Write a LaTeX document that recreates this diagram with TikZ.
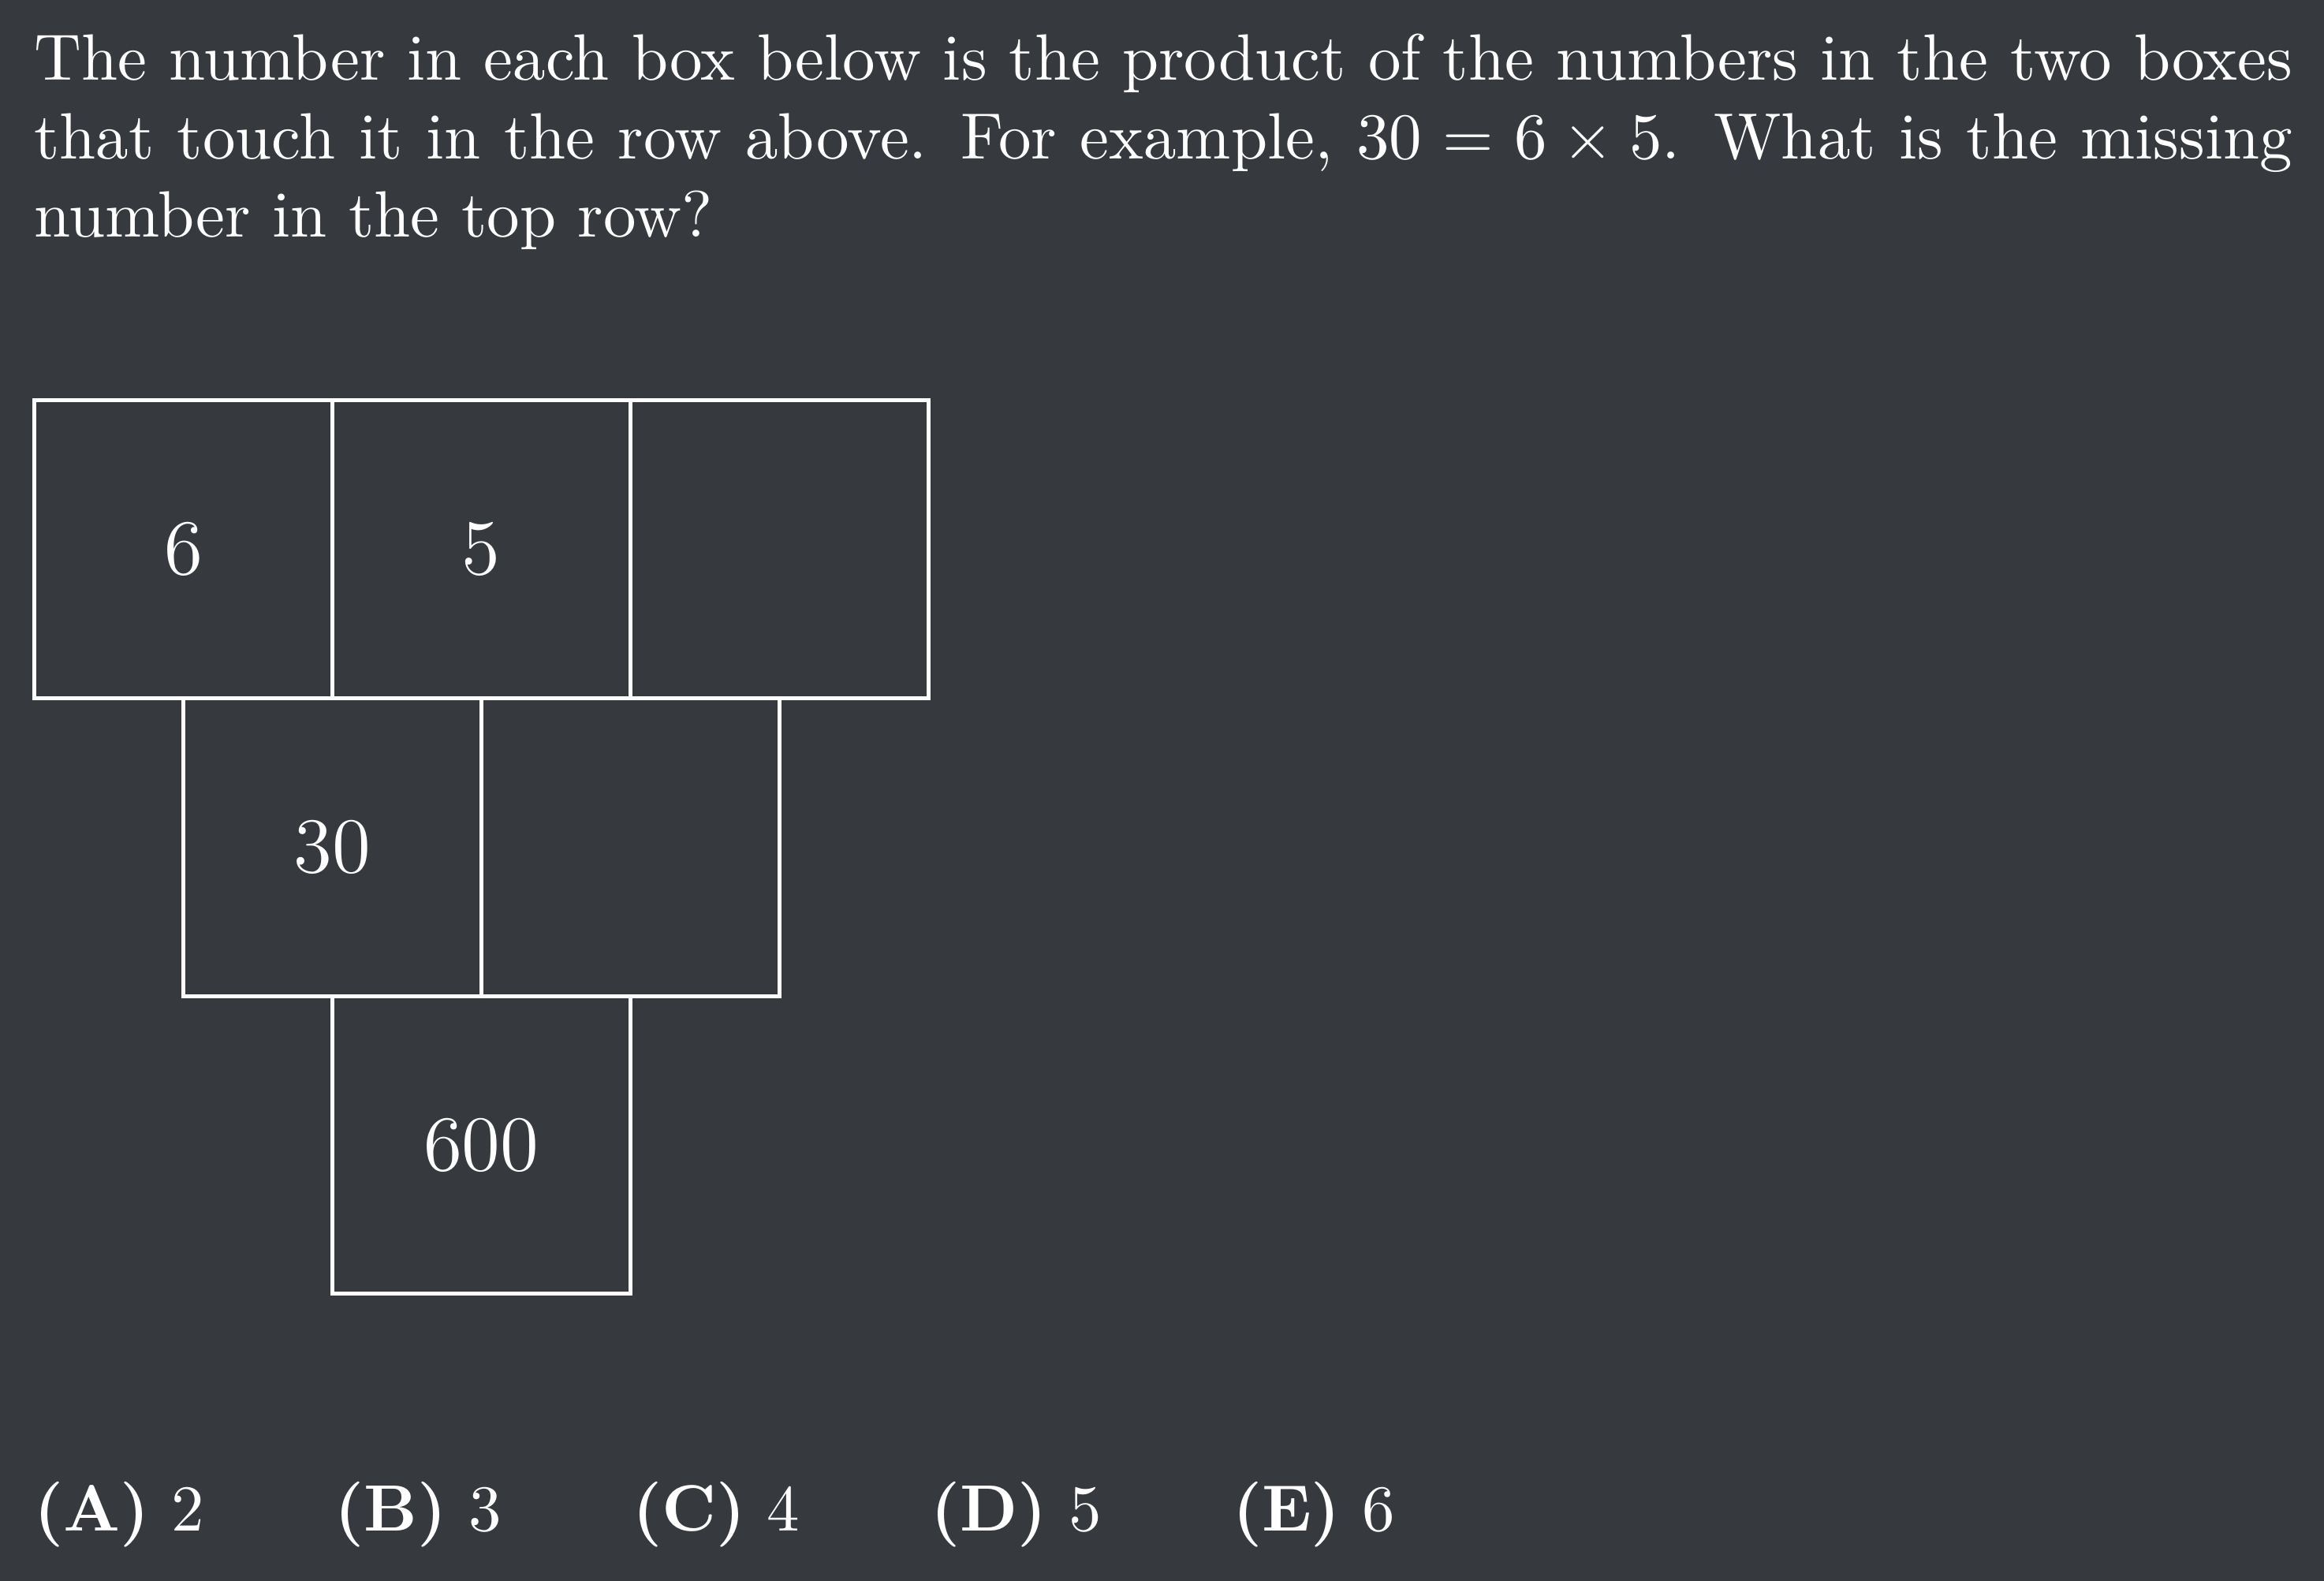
\documentclass[tikz,border=0pt]{standalone}
\definecolor{bgdark}{RGB}{54,57,62}
\begin{document}
\begin{tikzpicture}[x=1pt,y=1pt,
  cell/.style={draw=white, line width=0.6pt, minimum width=45.52pt, minimum height=45.52pt, inner sep=0pt, text=white, font=\large}]
\useasboundingbox (0,0) rectangle (355,-241.52);
\fill[bgdark] (0,0) rectangle (355,-241.52);
\node[anchor=north west, text width=345pt, inner sep=0pt, align=justify, text=white] (q) at (5,-5)
  {The number in each box below is the product of the numbers in the two boxes that touch it in the row above. For example, $30 = 6 \times 5$. What is the missing number in the top row?};
% top row
\node[cell] (a1) at (28.0,-83.86) {6};
\node[cell] (a2) at (73.52,-83.86) {5};
\node[cell] (a3) at (119.04,-83.86) {};
% middle row
\node[cell] (b1) at (50.76,-129.38) {30};
\node[cell] (b2) at (96.28,-129.38) {};
% bottom row
\node[cell] (c1) at (73.52,-174.9) {600};
% answers
\node[anchor=base west, inner sep=0pt, text=white] (ans) at (5,-233.9)
  {\textbf{(A)} 2\qquad\textbf{(B)} 3\qquad\textbf{(C)} 4\qquad\textbf{(D)} 5\qquad\textbf{(E)} 6};
\end{tikzpicture}
\end{document}
